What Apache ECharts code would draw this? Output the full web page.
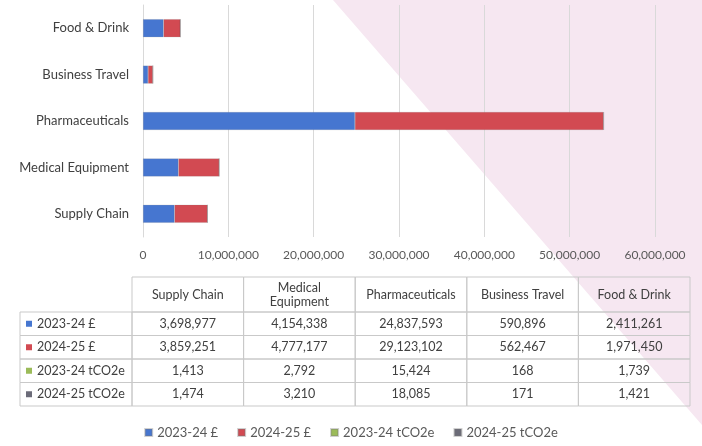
<!DOCTYPE html>
<html>
<head>
<meta charset="utf-8">
<script src="https://cdn.jsdelivr.net/npm/echarts@6/dist/echarts.min.js"></script>
<style>
  html, body { margin: 0; padding: 0; background: #fff; }
  #main { width: 702px; height: 446px; }
</style>
</head>
<body>
<div id="main"></div>
<script>
// chart data
var categories = ['Supply Chain', 'Medical Equipment', 'Pharmaceuticals', 'Business Travel', 'Food & Drink'];
var seriesNames = ['2023-24 £', '2024-25 £', '2023-24 tCO2e', '2024-25 tCO2e'];
var cost2324 = [3698977, 4154338, 24837593, 590896, 2411261];
var cost2425 = [3859251, 4777177, 29123102, 562467, 1971450];
var co2e2324 = [1413, 2792, 15424, 168, 1739];
var co2e2425 = [1474, 3210, 18085, 171, 1421];
var headerLabels = ['Supply Chain', 'Medical\nEquipment', 'Pharmaceuticals', 'Business Travel', 'Food & Drink'];

var colors = ['#4676d0', '#d24a52', '#9bbb59', '#6b6b78'];
var allSeries = [cost2324, cost2425, co2e2324, co2e2425];
var font = 'Lato';

var chart = echarts.init(document.getElementById('main'));

// data table below the chart (built from the arrays)
var tbl = { x0: 20, labelW: 112, colW: 111.6, headY: 277, headH: 35, rowH: 23.5 };
var graphics = [
  {
    type: 'polygon', z: -10, silent: true,
    shape: { points: [[333, 0], [702, 0], [702, 425]] },
    style: { fill: '#f6e7f1' }
  }
];
var border = '#c9c9c9';
var txtColor = '#404040';
var dataX = tbl.x0 + tbl.labelW;
headerLabels.forEach(function (h, c) {
  var x = dataX + c * tbl.colW;
  graphics.push({ type: 'rect', shape: { x: x, y: tbl.headY, width: tbl.colW, height: tbl.headH },
    style: { fill: 'none', stroke: border, lineWidth: 1 } });
  graphics.push({ type: 'text', x: x + tbl.colW / 2, y: tbl.headY + tbl.headH / 2,
    style: { text: h, fill: txtColor, font: '12.5px ' + font, align: 'center', verticalAlign: 'middle', lineHeight: 14 } });
});
allSeries.forEach(function (arr, r) {
  var y = tbl.headY + tbl.headH + r * tbl.rowH;
  graphics.push({ type: 'rect', shape: { x: tbl.x0, y: y, width: tbl.labelW, height: tbl.rowH },
    style: { fill: 'none', stroke: border, lineWidth: 1 } });
  graphics.push({ type: 'rect', shape: { x: tbl.x0 + 6, y: y + tbl.rowH / 2 - 3, width: 6, height: 6 },
    style: { fill: colors[r] } });
  graphics.push({ type: 'text', x: tbl.x0 + 17, y: y + tbl.rowH / 2,
    style: { text: seriesNames[r], fill: txtColor, font: '12.5px ' + font, align: 'left', verticalAlign: 'middle' } });
  arr.forEach(function (v, c) {
    var x = dataX + c * tbl.colW;
    graphics.push({ type: 'rect', shape: { x: x, y: y, width: tbl.colW, height: tbl.rowH },
      style: { fill: 'none', stroke: border, lineWidth: 1 } });
    graphics.push({ type: 'text', x: x + tbl.colW / 2, y: y + tbl.rowH / 2,
      style: { text: v.toLocaleString('en-US'), fill: txtColor, font: '12.5px ' + font, align: 'center', verticalAlign: 'middle' } });
  });
});

var option = {
  animation: false,
  textStyle: { fontFamily: font },
  grid: { left: 143, top: 5, width: 512, height: 232, containLabel: false },
  legend: {
    bottom: 2, left: 'center',
    icon: 'rect', itemWidth: 7, itemHeight: 7, itemGap: 19,
    textStyle: { color: '#595959', fontSize: 13, fontFamily: font },
    data: seriesNames
  },
  xAxis: {
    type: 'value', min: 0, max: 60000000, interval: 10000000,
    axisLine: { show: false }, axisTick: { show: false },
    splitLine: { lineStyle: { color: '#d9d9d9' } },
    axisLabel: {
      color: '#595959', fontSize: 12, margin: 12,
      formatter: function (v) { return v.toLocaleString('en-US'); }
    }
  },
  yAxis: {
    type: 'category', data: categories,
    axisLine: { show: true, lineStyle: { color: '#d9d9d9' } },
    axisTick: { show: false },
    axisLabel: { color: '#404040', fontSize: 13, margin: 14 }
  },
  series: allSeries.map(function (arr, i) {
    return {
      name: seriesNames[i], type: 'bar', stack: 'total', barWidth: 18,
      itemStyle: { color: colors[i], borderColor: 'rgba(120,120,120,0.35)', borderWidth: 0.5 },
      data: arr
    };
  }),
  graphic: graphics
};
chart.setOption(option);
</script>
</body>
</html>
